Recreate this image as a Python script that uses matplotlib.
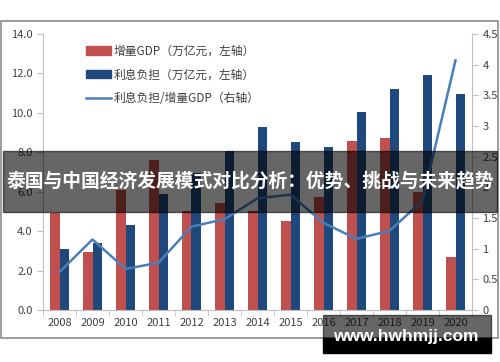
import matplotlib
matplotlib.use("Agg")
import matplotlib.pyplot as plt
import matplotlib.patches as mpatches
import numpy as np

plt.rcParams["font.family"] = ["Noto Sans CJK SC", "DejaVu Sans"]

years = ["2008", "2009", "2010", "2011", "2012", "2013", "2014",
         "2015", "2016", "2017", "2018", "2019", "2020"]
gdp_increase = [4.9, 2.93, 6.1, 7.6, 5.04, 5.42, 5.04, 4.5, 5.75, 8.57, 8.71, 6.0, 2.67]
interest_burden = [3.08, 3.38, 4.3, 5.9, 6.94, 8.08, 9.3, 8.54, 8.25, 10.03, 11.21, 11.92, 10.96]
ratio = [0.62, 1.15, 0.67, 0.77, 1.36, 1.48, 1.82, 1.88, 1.42, 1.16, 1.29, 1.78, 4.07]

left_ticks = [0, 2, 4, 6, 8, 10, 12, 14]
right_ticks = [0, 0.5, 1, 1.5, 2, 2.5, 3, 3.5, 4, 4.5]
right_labels = ["0", "0.5", "1", "1.5", "2", "2.5", "3", "3.5", "4", "4.5"]

label_gdp = "增量GDP（万亿元，左轴）"
label_burden = "利息负担（万亿元，左轴）"
label_ratio = "利息负担/增量GDP（右轴）"
title = "泰国与中国经济发展模式对比分析：优势、挑战与未来趋势"
watermark = "www.hwhmjj.com"

RED = "#C0504D"
BLUE = "#1F497D"
LINE = "#4A7EBB"
AXIS = "#BFBFBF"
TEXT = "#404040"

W, H = 500, 362
fig = plt.figure(figsize=(5, 3.62), dpi=100)

# outer chart frame
fig.patches.append(mpatches.Rectangle((1 / W, 1 - 338 / H), 497 / W, 317 / H,
                                      transform=fig.transFigure, fill=False,
                                      edgecolor="#8C8C8C", linewidth=1.2))

ax = fig.add_axes([43 / W, 1 - 310 / H, (472 - 43) / W, 276 / H])
x = np.arange(len(years))
bw = 0.29
ax.bar(x - bw / 2, gdp_increase, bw, color=RED, label=label_gdp, zorder=2)
ax.bar(x + bw / 2, interest_burden, bw, color=BLUE, label=label_burden, zorder=2)
ax.set_xlim(-0.5, len(years) - 0.5)
ax.set_ylim(0, 14)
ax.set_yticks(left_ticks)
ax.set_yticklabels([f"{v:.1f}" for v in left_ticks])
ax.set_xticks(x)
ax.set_xticklabels(years)
ax.set_xticks(np.arange(-0.5, len(years)), minor=True)
ax.tick_params(axis="x", which="major", length=0, labelsize=8, colors=TEXT, pad=6)
ax.tick_params(axis="x", which="minor", length=4, color=AXIS)
ax.tick_params(axis="y", length=4, color=AXIS, labelsize=8, labelcolor=TEXT)

ax2 = ax.twinx()
ax2.plot(x, ratio, color=LINE, linewidth=1.8, label=label_ratio, zorder=3)
ax2.set_ylim(0, 4.5)
ax2.set_yticks(right_ticks)
ax2.set_yticklabels(right_labels)
ax2.tick_params(axis="y", length=4, color=AXIS, labelsize=8, labelcolor=TEXT)

for a in (ax, ax2):
    a.spines["top"].set_visible(False)
    for s in ("left", "right", "bottom"):
        a.spines[s].set_color(AXIS)
        a.spines[s].set_linewidth(0.8)
ax.spines["right"].set_visible(False)
ax2.spines["left"].set_visible(False)
ax2.spines["bottom"].set_visible(False)

handles = [mpatches.Patch(color=RED), mpatches.Patch(color=BLUE),
           plt.Line2D([], [], color=LINE, linewidth=1.8)]
ax2.legend(handles, [label_gdp, label_burden, label_ratio], loc="upper left",
           bbox_to_anchor=(0.075, 1.0), frameon=False, fontsize=8.5,
           labelcolor=TEXT, handlelength=2.1, handleheight=0.7,
           handletextpad=0.25, labelspacing=0.9)

# title banner overlay
fig.patches.append(mpatches.Rectangle((3 / W, 1 - 212 / H), 494 / W, 61 / H,
                                      transform=fig.transFigure, color="black",
                                      alpha=0.6, zorder=10))
fig.text(0.5, 1 - 181 / H, title, ha="center", va="center", color="white",
         fontsize=13.5, fontweight="bold", zorder=11)

# watermark box
fig.patches.append(mpatches.Rectangle((323 / W, 1 - 338 / H), 168 / W, 23 / H,
                                      transform=fig.transFigure, color="black",
                                      alpha=0.6, zorder=10))
fig.patches.append(mpatches.Rectangle((323 / W, 1 - 353 / H), 168 / W, 15 / H,
                                      transform=fig.transFigure, color="black",
                                      zorder=10))
fig.text(406 / W, 1 - 336 / H, watermark, ha="center", va="center", color="white",
         fontsize=12.5, fontweight="bold", family=["Liberation Sans", "DejaVu Sans"],
         zorder=11)

fig.savefig("out.png", dpi=100)
